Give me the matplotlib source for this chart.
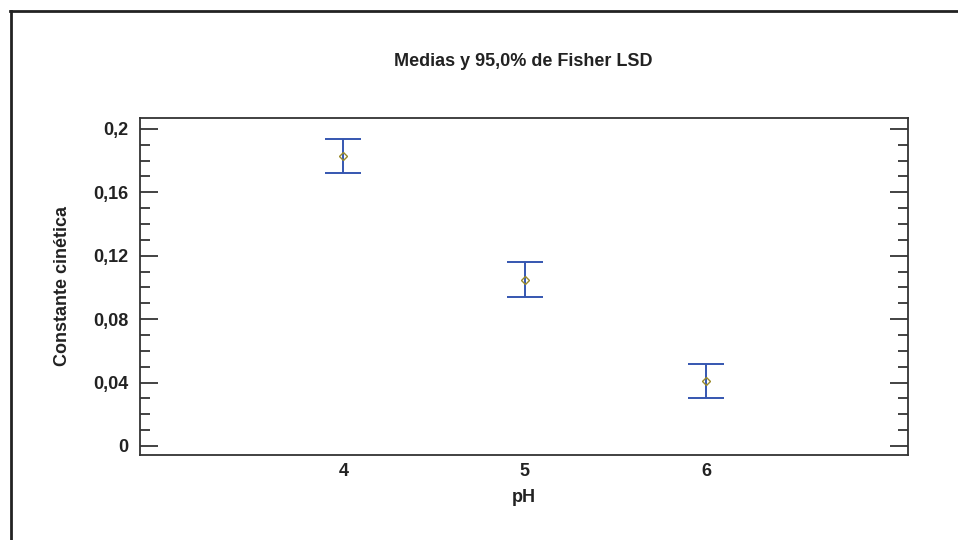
import matplotlib
matplotlib.use("Agg")
import matplotlib.pyplot as plt
from matplotlib.lines import Line2D
from matplotlib.ticker import FixedLocator, MultipleLocator, FuncFormatter

# Means and 95% Fisher LSD half-intervals of the kinetic constant per pH level
ph_levels = [4, 5, 6]
means = [0.183, 0.105, 0.041]
lsd_half = [0.0108, 0.0108, 0.0108]
y_ticks = [0, 0.04, 0.08, 0.12, 0.16, 0.2]

plt.rcParams['font.family'] = ['Liberation Sans', 'DejaVu Sans']

fig = plt.figure(figsize=(9.58, 5.4), dpi=100)
ax = fig.add_axes([0.1461, 0.1574, 0.8017, 0.6241])

# Outer frame (left and top edges)
fig.add_artist(Line2D([10.5 / 958, 10.5 / 958], [0, 1 - 11 / 540], transform=fig.transFigure,
                      color='#222222', lw=2))
fig.add_artist(Line2D([10 / 958, 1], [1 - 11 / 540, 1 - 11 / 540], transform=fig.transFigure,
                      color='#222222', lw=2))

blue = '#3556b0'
ax.errorbar(ph_levels, means, yerr=lsd_half, fmt='none', ecolor=blue, elinewidth=1.4,
            capsize=13, capthick=1.4)
ax.plot(ph_levels, means, linestyle='none', marker='D', markersize=4.5,
        markerfacecolor='none', markeredgecolor='#9a8a2a', markeredgewidth=1.0)

ax.set_xlim(2.88, 7.11)
ax.set_ylim(-0.0057, 0.2069)

ax.xaxis.set_major_locator(FixedLocator(ph_levels))
ax.yaxis.set_major_locator(FixedLocator(y_ticks))
ax.yaxis.set_minor_locator(MultipleLocator(0.01))


def comma_fmt(v, pos):
    s = ('%g' % round(v, 4)).replace('.', ',')
    return s


ax.yaxis.set_major_formatter(FuncFormatter(comma_fmt))

fs = 13
ax.tick_params(axis='y', which='major', direction='in', length=13, width=1.2,
               left=True, right=True, color='#222222', labelsize=fs, pad=8)
ax.tick_params(axis='y', which='minor', direction='in', length=7, width=1.2,
               left=True, right=True, color='#222222')
ax.tick_params(axis='x', which='both', length=0, labelsize=fs, pad=6)

for lab in ax.get_xticklabels() + ax.get_yticklabels():
    lab.set_fontweight('bold')
    lab.set_color('#222222')

for sp in ax.spines.values():
    sp.set_color('#333333')
    sp.set_linewidth(1.3)

ax.set_xlabel('pH', fontsize=fs, fontweight='bold', color='#222222', labelpad=6)
ax.set_ylabel('Constante cinética', fontsize=fs, fontweight='bold', color='#222222', labelpad=16)
fig.text(0.5465, 1 - 62 / 540, 'Medias y 95,0% de Fisher LSD', ha='center', va='center',
         fontsize=fs, fontweight='bold', color='#222222')

fig.savefig('out.png', dpi=100)
